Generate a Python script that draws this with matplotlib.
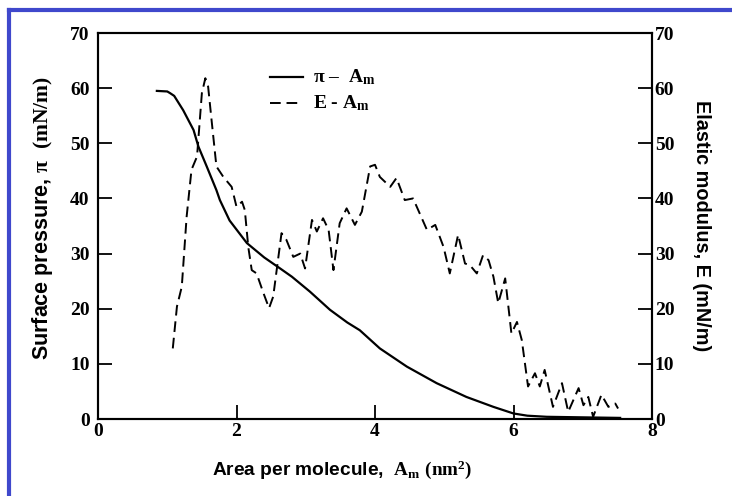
import matplotlib
matplotlib.use("Agg")
import matplotlib.pyplot as plt
from matplotlib.lines import Line2D

plt.rcParams["mathtext.fontset"] = "custom"
plt.rcParams["mathtext.rm"] = "Liberation Serif:bold"
plt.rcParams["mathtext.bf"] = "Liberation Serif:bold"
plt.rcParams["mathtext.it"] = "Liberation Serif:bold"

# Surface pressure isotherm (pi - Am)
area_pi = [0.85, 1.0, 1.04, 1.1, 1.23, 1.38, 1.45, 1.57, 1.71, 1.76, 1.9, 2.15, 2.4,
           2.63, 2.8, 3.06, 3.35, 3.6, 3.78, 4.07, 4.46, 4.89, 5.32, 5.71,
           6.0, 6.2, 6.48, 7.0, 7.54]
pressure = [59.5, 59.4, 59.1, 58.6, 56.0, 52.4, 49.4, 45.8, 41.5, 39.7, 36.0, 31.9, 29.3,
            27.3, 25.8, 23.1, 19.8, 17.5, 16.1, 12.8, 9.5, 6.5, 4.0, 2.2,
            1.0, 0.6, 0.4, 0.3, 0.2]

# Elastic modulus (E - Am)
area_e = [1.08, 1.14, 1.21, 1.28, 1.35, 1.43, 1.50, 1.55, 1.59, 1.64, 1.71, 1.81,
          1.93, 2.00, 2.08, 2.12, 2.17, 2.22, 2.29, 2.39, 2.47, 2.53, 2.65, 2.72,
          2.82, 2.92, 2.99, 3.09, 3.16, 3.25, 3.33, 3.40, 3.49, 3.59, 3.71, 3.81,
          3.93, 4.00, 4.07, 4.22, 4.31, 4.43, 4.55, 4.75, 4.87, 4.99, 5.08, 5.20,
          5.30, 5.37, 5.47, 5.56, 5.64, 5.71, 5.78, 5.88, 5.97, 6.05, 6.12, 6.21,
          6.31, 6.38, 6.45, 6.57, 6.70, 6.79, 6.94, 7.01, 7.08, 7.15, 7.27, 7.37,
          7.47, 7.51]
modulus = [12.8, 20.4, 24.0, 36.7, 45.2, 47.6, 59.1, 61.8, 60.3, 54.2, 45.8, 43.9,
           42.1, 38.5, 39.4, 37.9, 31.2, 27.0, 26.4, 22.8, 20.1, 22.2, 33.7, 32.5,
           29.4, 30.0, 27.3, 36.1, 34.0, 36.4, 34.3, 27.0, 35.5, 38.2, 35.2, 37.6,
           45.8, 46.1, 43.9, 42.1, 43.7, 39.7, 40.0, 34.3, 35.2, 31.2, 26.4, 33.4,
           28.2, 27.9, 26.4, 29.7, 28.8, 25.8, 21.0, 25.5, 15.5, 17.6, 14.3, 5.9,
           8.3, 5.9, 8.9, 2.2, 6.5, 1.3, 5.6, 2.5, 4.0, 0.4, 4.4, 2.2,
           2.8, 1.9]

x_ticks = [0, 2, 4, 6, 8]
y_ticks = [0, 10, 20, 30, 40, 50, 60, 70]

W, H = 732, 496
fig = plt.figure(figsize=(W / 100, H / 100), dpi=100)
fig.patch.set_facecolor("white")

ax = fig.add_axes([98 / W, (H - 419) / H, 554 / W, 386 / H])
ax2 = ax.twinx()

ax.plot(area_pi, pressure, color="black", lw=1.6, solid_joinstyle="round")
ax2.plot(area_e, modulus, color="black", lw=1.4, linestyle=(0, (5.5, 3)))

tick_font = dict(family="Liberation Serif", weight="bold", size=14)

ax.set_xlim(0, 8)
ax.set_ylim(0, 70)
ax2.set_ylim(0, 70)
ax.set_xticks(x_ticks)
ax.set_yticks(y_ticks)
ax2.set_yticks(y_ticks)
ax.set_xticklabels([str(v) for v in x_ticks], fontdict=tick_font)
ax.set_yticklabels([str(v) for v in y_ticks], fontdict=tick_font)
ax2.set_yticklabels([str(v) for v in y_ticks], fontdict=tick_font)

ax.tick_params(axis="x", direction="in", length=10, width=1.3, pad=3, top=False)
ax.tick_params(axis="y", direction="in", length=10, width=1.3, pad=6)
ax2.tick_params(axis="y", direction="in", length=10, width=1.3, pad=2)
for a in (ax, ax2):
    for s in a.spines.values():
        s.set_linewidth(1.5)

# Legend
leg_y = [77, 103]
ax_fig = fig.transFigure
fig.add_artist(Line2D([270 / W, 303 / W], [(H - leg_y[0]) / H] * 2,
                      color="black", lw=1.6, transform=ax_fig))
fig.add_artist(Line2D([270 / W, 303 / W], [(H - leg_y[1]) / H] * 2,
                      color="black", lw=1.4, linestyle=(0, (5.5, 3)),
                      transform=ax_fig))
leg_font = dict(family="Liberation Serif", weight="bold", size=14)
fig.text(313 / W, (H - leg_y[0]) / H, "π –  $\\mathbf{A_m}$", va="center",
         ha="left", **leg_font)
fig.text(313 / W, (H - leg_y[1]) / H, "E - $\\mathbf{A_m}$", va="center",
         ha="left", **leg_font)

# Axis titles
fig.text(342 / W, (H - 470) / H,
         "Area per molecule,  $\\mathbf{A_m\\ (nm^2)}$",
         ha="center", va="center", family="Liberation Sans", weight="bold",
         size=13.8)
fig.text(43 / W, (H - 218) / H,
         "Surface pressure, $\\mathbf{\\pi\\ \\ (mN/m)}$",
         ha="center", va="center", rotation=90, family="Liberation Sans",
         weight="bold", size=15.5)
fig.text(702 / W, (H - 226) / H, "Elastic modulus, E (mN/m)",
         ha="center", va="center", rotation=-90, family="Liberation Sans",
         weight="bold", size=14.3)

# Blue frame along the top and left edges
frame_color = "#3f48cc"
fig.add_artist(Line2D([8.5 / W, 8.5 / W], [0, (H - 9.5) / H],
                      color=frame_color, lw=3, transform=ax_fig,
                      solid_capstyle="projecting"))
fig.add_artist(Line2D([8.5 / W, 1], [(H - 9.5) / H] * 2,
                      color=frame_color, lw=3, transform=ax_fig,
                      solid_capstyle="projecting"))

fig.savefig("out.png", dpi=100)
